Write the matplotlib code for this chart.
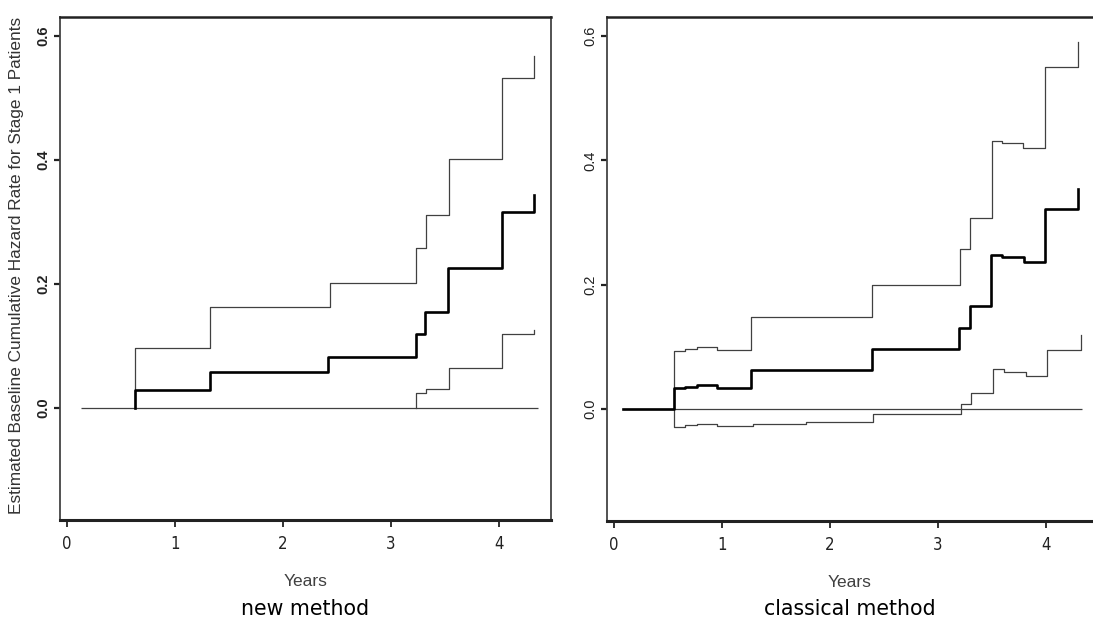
import matplotlib
matplotlib.use("Agg")
import matplotlib.pyplot as plt
from matplotlib import font_manager

# ---------------- data ----------------
x_ticks = [0, 1, 2, 3, 4]
y_ticks = [0.0, 0.2, 0.4, 0.6]
y_tick_labels = ["0.0", "0.2", "0.4", "0.6"]

# new method
new_est_t = [0.632, 0.632, 1.327, 2.416, 3.228, 3.315, 3.525, 4.031, 4.327]
new_est_v = [0.0, 0.0285, 0.0585, 0.0818, 0.119, 0.155, 0.2253, 0.3166, 0.3435]
new_up_t = [0.632, 0.632, 1.327, 2.44, 3.234, 3.327, 3.534, 4.031, 4.327]
new_up_v = [0.0, 0.097, 0.163, 0.202, 0.2585, 0.312, 0.402, 0.532, 0.567]
new_lo_t = [3.234, 3.234, 3.327, 3.534, 4.025, 4.327]
new_lo_v = [0.0, 0.0237, 0.0306, 0.064, 0.119, 0.126]
new_zero_t = [0.136, 4.36]

# classical method
cl_est_t = [0.08, 0.553, 0.66, 0.765, 0.957, 1.266, 2.386, 3.194, 3.30, 3.488,
            3.59, 3.80, 3.994, 4.30]
cl_est_v = [0.0, 0.033, 0.0355, 0.038, 0.033, 0.063, 0.0958, 0.1306, 0.1656,
            0.2468, 0.244, 0.237, 0.322, 0.354]
cl_up_t = [0.553, 0.553, 0.66, 0.765, 0.957, 1.266, 2.386, 3.204, 3.30, 3.497,
           3.59, 3.79, 3.994, 4.30]
cl_up_v = [0.0, 0.093, 0.096, 0.099, 0.095, 0.148, 0.1995, 0.257, 0.3076,
           0.4307, 0.4274, 0.4205, 0.55, 0.590]
cl_lo_t = [0.553, 0.553, 0.66, 0.765, 0.957, 1.284, 1.78, 2.40, 3.213, 3.306,
           3.51, 3.61, 3.815, 4.01, 4.32]
cl_lo_v = [0.0, -0.030, -0.027, -0.025, -0.028, -0.024, -0.021, -0.008, 0.007,
           0.0248, 0.0635, 0.0597, 0.053, 0.0947, 0.119]
cl_zero_t = [0.08, 4.33]

ylabel = "Estimated Baseline Cumulative Hazard Rate for Stage 1 Patients"
xlabel = "Years"
titles = ["new method", "classical method"]

# ---------------- fonts ----------------
names = {f.name for f in font_manager.fontManager.ttflist}
narrow = "Liberation Sans Narrow" if "Liberation Sans Narrow" in names else "DejaVu Sans"
sans = "Liberation Sans" if "Liberation Sans" in names else "DejaVu Sans"

W, H = 1093, 630
fig = plt.figure(figsize=(W / 100, H / 100), dpi=100)
fig.patch.set_facecolor("white")

def fx(px):
    return px / W

def fy(py):
    return 1 - py / H

ax1 = fig.add_axes([fx(60), fy(520), fx(551) - fx(60), fy(17) - fy(520)])
ax2 = fig.add_axes([fx(607), fy(521), fx(1093) - fx(607), fy(17) - fy(521)])

thin_c = "#404040"
panels = [
    (ax1, new_est_t, new_est_v, new_up_t, new_up_v, new_lo_t, new_lo_v, new_zero_t,
     (-0.062, 4.481), (-0.1806, 0.6306), True),
    (ax2, cl_est_t, cl_est_v, cl_up_t, cl_up_v, cl_lo_t, cl_lo_v, cl_zero_t,
     (-0.065, 4.435), (-0.181, 0.631), False),
]

for (ax, et, ev, ut, uv, lt, lv, zt, xl, yl, first) in panels:
    ax.plot(zt, [0, 0], color=thin_c, lw=0.9, solid_capstyle="butt")
    ax.step(ut, uv, where="post", color=thin_c, lw=0.9)
    ax.step(lt, lv, where="post", color=thin_c, lw=0.9)
    ax.step(et, ev, where="post", color="black", lw=1.9)
    ax.set_xlim(*xl)
    ax.set_ylim(*yl)
    ax.set_xticks(x_ticks)
    ax.set_xticklabels([str(v) for v in x_ticks], fontfamily=narrow,
                       fontstretch="condensed", fontsize=12, color="#222222")
    ax.set_yticks(y_ticks)
    ax.set_yticklabels(y_tick_labels, rotation=90, va="center",
                       fontfamily=sans, fontsize=10.5,
                       fontweight="bold" if first else "normal",
                       color="#222222")
    ax.tick_params(axis="x", direction="out", length=5, width=1.3, pad=6,
                   colors="#222222")
    ax.tick_params(axis="y", direction="out", length=4, width=1.6, pad=3,
                   colors="#222222")
    ax.spines["bottom"].set_linewidth(2.2)
    ax.spines["bottom"].set_color("#222222")
    ax.spines["top"].set_linewidth(1.8)
    ax.spines["top"].set_color("#222222")
    ax.spines["left"].set_linewidth(1.3)
    ax.spines["left"].set_color("#444444")
    ax.spines["right"].set_linewidth(1.3)
    ax.spines["right"].set_color("#444444")
    ax.set_xlabel(xlabel, fontfamily=sans, fontsize=12.5, color="#404040",
                  labelpad=15)

ax2.spines["right"].set_visible(False)

# panel titles below
fig.text((fx(60) + fx(551)) / 2, fy(609), titles[0], ha="center", va="center",
         fontfamily="DejaVu Sans", fontsize=14.8, color="black")
fig.text((fx(607) + fx(1093)) / 2, fy(609), titles[1], ha="center", va="center",
         fontfamily="DejaVu Sans", fontsize=14.8, color="black")

# shared y label
fig.text(fx(17), fy(265), ylabel, rotation=90, ha="center", va="center",
         fontfamily=sans, fontsize=12.4, color="#333333")

fig.savefig("out.png", dpi=100, facecolor="white")
